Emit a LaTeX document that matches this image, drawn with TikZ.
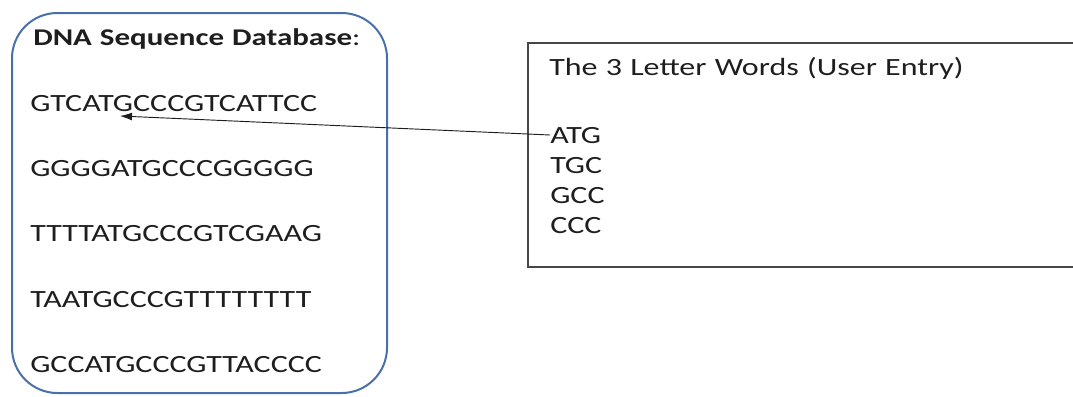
\documentclass[tikz,border=0pt]{standalone}
\usepackage{fontspec}
\setmainfont{Carlito}[FakeStretch=1.29]
\usetikzlibrary{positioning}
\usetikzlibrary{arrows.meta}
\definecolor{dbblue}{RGB}{74,112,170}
\definecolor{boxgray}{RGB}{70,70,70}
\definecolor{txt}{RGB}{30,30,30}

\tikzset{
  word/.style={inner sep=0pt, text width=#1, align=left, text height=12pt, text depth=0pt,
    font=\fontsize{18.6}{22}\selectfont, text=txt},
  word/.default=240pt
}

\begin{document}
\begin{tikzpicture}[x=0.75pt, y=-0.75pt, node distance=49.1pt]
            \useasboundingbox (0,0) rectangle (1073,396);

            % database box
            \draw[dbblue, line width=1.5pt, rounded corners=34pt] (12,13) rectangle (387,393);
            \node[word=330pt, anchor=base west, font=\fontsize{18}{22}\selectfont] (dbtitle) at (33,45) {\textbf{DNA Sequence Database}:};

            \node[word, anchor=base west] (seq1) at (30,111) {GTCATGCCCGTCATTCC};
            \node[word, below of=seq1] (seq2) {GGGGATGCCCGGGGG};
            \node[word, below of=seq2] (seq3) {TTTTATGCCCGTCGAAG};
            \node[word, below of=seq3] (seq4) {TAATGCCCGTTTTTTTT};
            \node[word, below of=seq4] (seq5) {GCCATGCCCGTTACCCC};

            % user entry box
            \draw[boxgray, line width=1.1pt] (1085,43) -- (528,43) -- (528,267) -- (1085,267);
            \node[word=400pt, anchor=base west] (entry) at (549,75) {The 3 Letter Words (User Entry)};

            \node[word=40pt, anchor=base west] (atg) at (550,143) {ATG};
            \node[word=40pt, below of=atg, node distance=22.5pt] (tgc) {TGC};
            \node[word=40pt, below of=tgc, node distance=22.5pt] (gcc) {GCC};
            \node[word=40pt, below of=gcc, node distance=22.5pt] (ccc) {CCC};

            \coordinate (hit) at (120,116);
            \draw[-{Latex[length=9pt,width=6pt]}, line width=0.7pt, txt] (atg.west) -- (hit);
          \end{tikzpicture}
\end{document}
